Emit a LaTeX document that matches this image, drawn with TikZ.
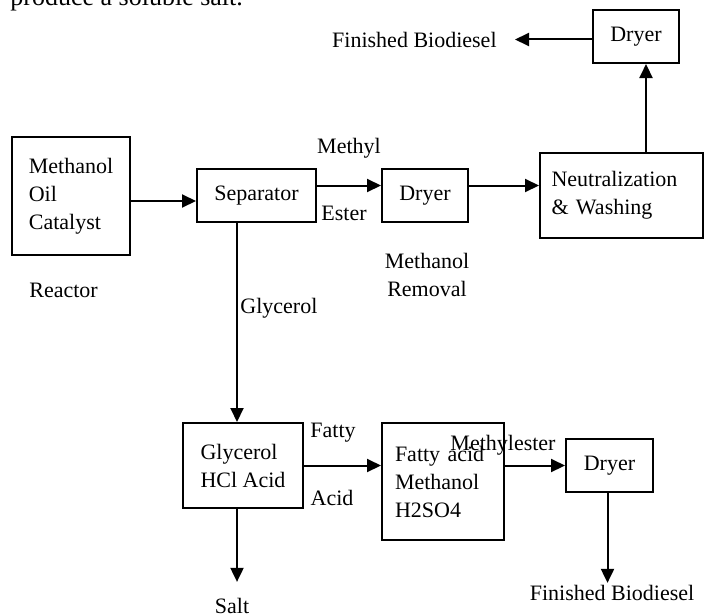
\documentclass[tikz,border=0pt]{standalone}
\usepackage{fontspec}
\setmainfont{Liberation Serif}
\usepackage{tikz}
\usetikzlibrary{arrows.meta}
\usetikzlibrary{positioning}

\tikzset{
    unit/.style={draw, line width=1pt, align=left, inner sep=0pt},
    flow/.style={line width=1pt, -{Triangle[length=7pt,width=6.5pt]}},
    lbl/.style={inner sep=1pt, align=center},
}

\begin{document}
\begin{tikzpicture}[x=0.5pt, y=-0.5pt, font=\fontsize{11}{14}\selectfont]
    \useasboundingbox (0,0) rectangle (704,615);
    % caption text cut off at the top
    \node[anchor=base west, inner sep=0pt, font=\fontsize{13}{15}\selectfont] (capt) at (10,6) {produce a soluble salt.};
    % units
    \node[unit, minimum width=59pt, minimum height=59pt] (reactor) at (71,196) {Methanol\\Oil\\Catalyst};
    \node[unit, minimum width=59.5pt, minimum height=26.5pt] (sep) at (256.5,195.5) {Separator};
    \node[unit, minimum width=43pt, minimum height=26.5pt] (dryerA) at (425,195.5) {Dryer};
    \node[unit, minimum width=81.5pt, minimum height=42.5pt, text width=70pt] (neut) at (621.5,195.5) {Neutralization\\\& Washing};
    \node[unit, minimum width=43pt, minimum height=26.5pt] (dryerB) at (636,36.5) {Dryer};
    \node[unit, minimum width=60pt, minimum height=42.5pt] (glyc) at (243,465.5) {Glycerol\\HCl Acid};
    \node[unit, minimum width=61pt, minimum height=58.5pt, text width=48pt] (fatty) at (443,481.5) {Fatty acid\\Methanol\\H2SO4};
    \node[unit, minimum width=43.5pt, minimum height=26.5pt] (dryerC) at (609.5,465.5) {Dryer};
    % products
    \node[lbl, anchor=east] (finA) at (499,40) {Finished Biodiesel};
    \node[lbl] (salt) at (232,606) {Salt};
    \node[lbl] (finB) at (612,593) {Finished Biodiesel};
    % stream labels
    \node[lbl, anchor=west] (reac) at (27,290) {Reactor};
    \node[lbl, anchor=west] (glyl) at (238,308) {Glycerol};
    \node[lbl] (meth) at (349,148) {Methyl};
    \node[lbl] (este) at (344,213) {Ester};
    \node[lbl] (remo) at (427,275) {Methanol\\Removal};
    \node[lbl] (fatl) at (333,433) {Fatty};
    \node[lbl] (acil) at (332,498) {Acid};
    \node[lbl] (mest) at (503,445) {Methylester};
    % streams
    \draw[flow] ([yshift=-2.5pt]reactor.east) -- ([yshift=-2.5pt]reactor.east -| sep.west);
    \draw[flow] ([yshift=5pt]sep.east) -- ([yshift=5pt]dryerA.west);
    \draw[flow] ([yshift=5pt]dryerA.east) -- ([yshift=5pt]dryerA.east -| neut.west);
    \draw[flow] ([xshift=5pt]dryerB.south |- neut.north) -- ([xshift=5pt]dryerB.south);
    \draw[flow] ([yshift=-1.5pt]dryerB.west) -- ([xshift=8pt,yshift=-1.5pt]dryerB.west -| finA.east);
    \draw[flow] ([xshift=-3pt]glyc.north |- sep.south) -- ([xshift=-3pt]glyc.north);
    \draw[flow] (glyc.east) -- (glyc.east -| fatty.west);
    \draw[flow] ([xshift=-3pt]glyc.south) -- ([xshift=-3pt,yshift=7pt]glyc.south |- salt.north);
    \draw[flow] (dryerC.west -| fatty.east) -- (dryerC.west);
    \draw[flow] ([xshift=-1pt]dryerC.south) -- ([xshift=-1pt]dryerC.south |- finB.north);
\end{tikzpicture}
\end{document}
